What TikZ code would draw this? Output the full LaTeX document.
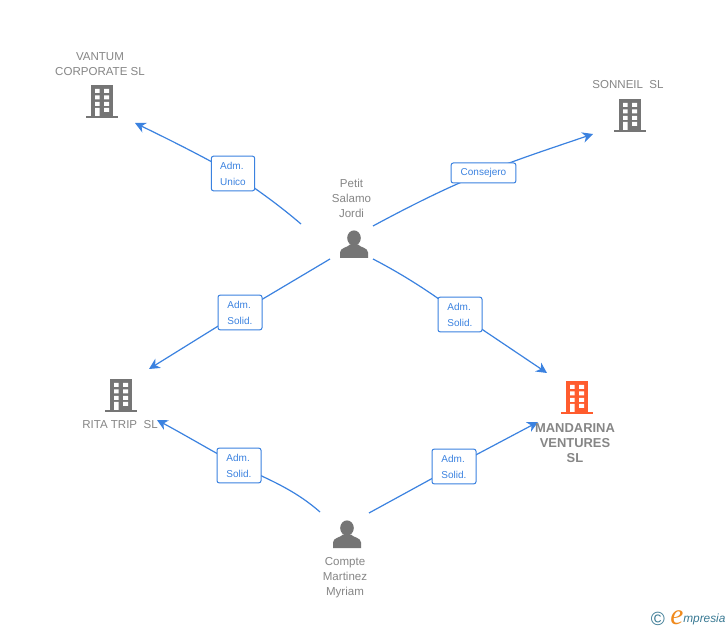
\documentclass[tikz,border=0pt]{standalone}
\usepackage{fontspec}
\setmainfont{Liberation Sans}
\newfontfamily\logofont{Liberation Serif}
\usetikzlibrary{arrows.meta}
\definecolor{edgeblue}{HTML}{3B82E0}
\definecolor{txtgray}{HTML}{868686}
\definecolor{icongray}{HTML}{757575}
\definecolor{hotorange}{HTML}{FF5C2E}
\definecolor{logoteal}{HTML}{3A7A94}
\definecolor{logoorange}{HTML}{F08A1D}
\tikzset{
  x=0.75pt,y=-0.75pt,
  orgtext/.style={text=txtgray,align=center,inner sep=0pt,font=\fontsize{8.65}{11.25}\selectfont},
  hottext/.style={text=txtgray,align=center,inner sep=0pt,font=\fontsize{9.7}{11.25}\selectfont\bfseries},
  role/.style={draw=edgeblue,fill=white,rounded corners=1.6pt,line width=0.75pt,text=edgeblue,
     align=left,inner sep=0pt,font=\fontsize{7.5}{12}\selectfont,anchor=center},
  link/.style={draw=edgeblue,line width=0.9pt},
  tiplink/.style={link,-{Stealth[length=8pt,width=8pt,inset=2.5pt]}},
  pics/tower/.style={code={
    \fill[#1] (-11,-17) rectangle (11,14);
    \fill[#1] (-16,14) rectangle (16,16.5);
    \fill[white] (-7,-13) rectangle (-2.5,-9) (2,-13) rectangle (7,-9)
                 (-7,-6.5) rectangle (-2.5,-2.5) (2,-6.5) rectangle (7,-2.5)
                 (-7,0) rectangle (-2.5,4) (2,0) rectangle (7,4)
                 (-7,6) rectangle (-2.5,14) (2,6) rectangle (7,10);
  }},
  pics/person/.style={code={
    \fill[icongray] (0,-6.5) ellipse (6.8 and 7.6);
    \fill[icongray] (-14,13.5) -- (-14,8) .. controls (-14,3) and (-6,3) .. (-4,0)
        -- (4,0) .. controls (6,3) and (14,3) .. (14,8) -- (14,13.5) -- cycle;
  }}
}
\begin{document}
\begin{tikzpicture}
\useasboundingbox (0,0) rectangle (728,630);
\fill[white] (0,0) rectangle (728,630);

% free ends of connectors
\coordinate (petitUL) at (301,224);
\coordinate (petitUR) at (373,226);
\coordinate (petitLL) at (330,259);
\coordinate (petitLR) at (373,259);
\coordinate (compteL) at (320,512);
\coordinate (compteR) at (369,513);
\coordinate (vantumIn) at (135,123);
\coordinate (sonneilIn) at (593,134);
\coordinate (ritaInA) at (149,369);
\coordinate (ritaInB) at (157,420);
\coordinate (mandaInA) at (547,373);
\coordinate (mandaInB) at (538,422);
\coordinate (hubVantum) at (233,173.5);
\coordinate (hubSonneil) at (483.5,173);
\coordinate (hubRitaA) at (240,312.5);
\coordinate (hubMandaA) at (460,314.5);
\coordinate (hubRitaB) at (239,465.5);
\coordinate (hubMandaB) at (454,466.5);

% connectors
\draw[link] (petitUL) .. controls (280,206) and (258,190) .. (hubVantum);
\draw[tiplink] (hubVantum) .. controls (200,155) and (170,140) .. (vantumIn);
\draw[link] (petitUR) .. controls (410,206) and (450,186) .. (hubSonneil);
\draw[tiplink] (hubSonneil) .. controls (515,160) and (555,147) .. (sonneilIn);
\draw[link] (petitLL) -- (hubRitaA);
\draw[tiplink] (hubRitaA) -- (ritaInA);
\draw[link] (petitLR) .. controls (402,274) and (432,293) .. (hubMandaA);
\draw[tiplink] (hubMandaA) -- (mandaInA);
\draw[link] (compteL) .. controls (295,490) and (270,480) .. (hubRitaB);
\draw[tiplink] (hubRitaB) .. controls (210,450) and (185,435) .. (ritaInB);
\draw[link] (compteR) -- (hubMandaB);
\draw[tiplink] (hubMandaB) -- (mandaInB);

% role labels
\node[role,minimum width=32.5pt,minimum height=26pt] (roleVantum) at (hubVantum) {Adm.\\Unico};
\node[role,minimum width=48.5pt,minimum height=15pt] (roleSonneil) at (hubSonneil) {Consejero};
\node[role,minimum width=33pt,minimum height=26pt] (roleRitaA) at (hubRitaA) {Adm.\\Solid.};
\node[role,minimum width=33pt,minimum height=26pt] (roleMandaA) at (hubMandaA) {Adm.\\Solid.};
\node[role,minimum width=33pt,minimum height=26pt] (roleRitaB) at (hubRitaB) {Adm.\\Solid.};
\node[role,minimum width=33pt,minimum height=26pt] (roleMandaB) at (hubMandaB) {Adm.\\Solid.};

% icons
\pic at (102,102) {tower=icongray};
\pic at (630,116) {tower=icongray};
\pic at (121,396) {tower=icongray};
\pic at (577,398) {tower=hotorange};
\pic at (354,244.5) {person};
\pic at (347,534.5) {person};

% names
\node[orgtext] (vantum) at (100,64.5) {VANTUM\\CORPORATE SL};
\node[orgtext] (sonneil) at (628,85) {SONNEIL~ SL};
\node[orgtext] (rita) at (120,425) {RITA TRIP~ SL};
\node[hottext] (manda) at (575,443) {MANDARINA\\VENTURES\\SL};
\node[orgtext] (petit) at (351.5,198) {Petit\\Salamo\\Jordi};
\node[orgtext] (compte) at (345,578) {Compte\\Martinez\\Myriam};

% logo
\node[text=logoteal,inner sep=0pt,font=\fontsize{14.3}{14.3}\selectfont] (logoC) at (658,619) {©};
\node[text=logoorange,inner sep=0pt,font=\logofont\itshape\fontsize{22}{22}\selectfont] (logoE) at (677,618) {e};
\node[text=logoteal,inner sep=0pt,anchor=west,font=\itshape\fontsize{8.9}{10}\selectfont] (logoW) at (683,619.5) {mpresia};
\end{tikzpicture}
\end{document}
